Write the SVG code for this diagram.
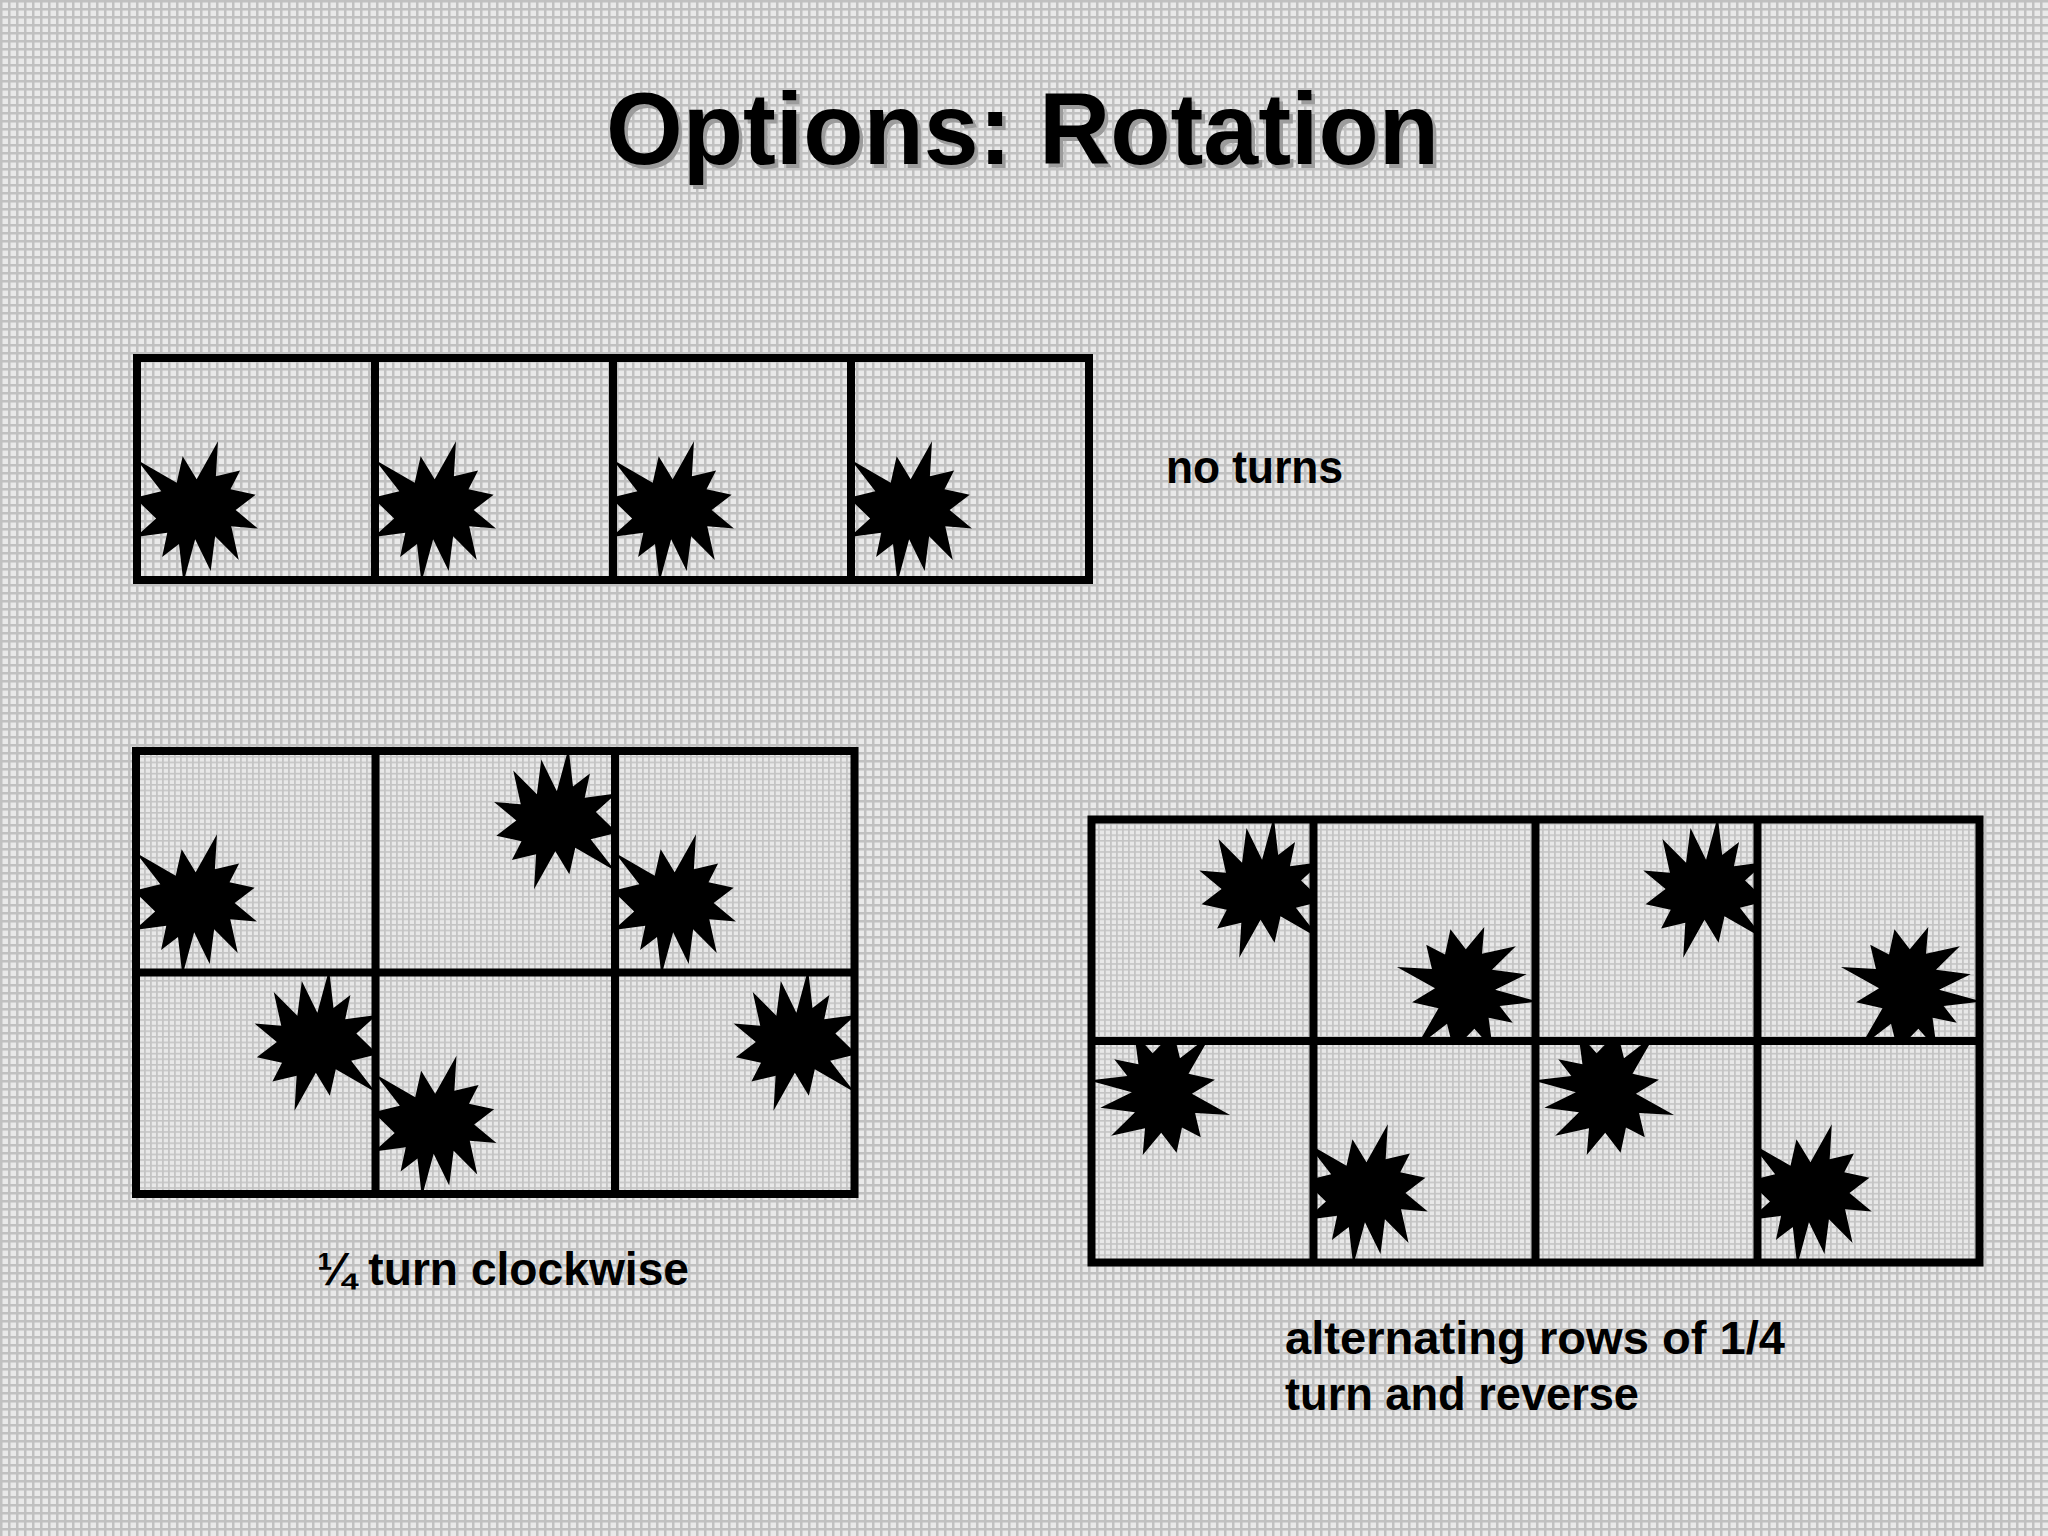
<svg xmlns="http://www.w3.org/2000/svg" xmlns:xlink="http://www.w3.org/1999/xlink" width="2048" height="1536" viewBox="0 0 2048 1536">
  <defs>
    <pattern id="bg" width="8" height="8" patternUnits="userSpaceOnUse">
      <rect width="8" height="8" fill="#c0c0c0"/>
      <rect x="2.5" y="2.5" width="5.5" height="5.5" fill="#e9e9e9"/>
    </pattern>
    <pattern id="fine" width="6" height="5.6" patternUnits="userSpaceOnUse">
      <rect width="6" height="5.6" fill="#c4c4c4"/>
      <rect x="1.8" y="1.6" width="4.2" height="4" fill="#e8e8e8"/>
    </pattern>
    <path id="star" d="M10901 5905 L8458 2399 L7417 6425 L476 2943 L4732 7722 L106 8718 L3828 11880 L243 14689 L5772 14041 L4868 17719 L7819 15730 L8590 21600 L10637 15038 L13349 19840 L14125 14561 L18248 18195 L16938 13044 L21600 13393 L17710 10579 L21198 8242 L16806 7417 L18482 4560 L14257 5429 L14623 106 Z"/>
    <g id="starA"><use href="#star" transform="translate(-2.8,82.5) scale(0.00573,0.006574)"/></g>
    <g id="starB"><use href="#star" transform="translate(-9.5,82.5) scale(0.00573,0.006574)"/></g>
    <style>
      .lbl { font-family: "Liberation Sans", Arial, sans-serif; font-weight: bold; font-size: 46px; fill: #000; }
      .ttl { font-family: "Liberation Sans", Arial, sans-serif; font-weight: bold; font-size: 102px; }
      .frame { fill: none; stroke: #000; stroke-width: 8; }
      .ln { stroke: #000; stroke-width: 8; }
      .st { fill: #000; }
    </style>
  </defs>

  <rect width="2048" height="1536" fill="url(#bg)"/>

  <g id="title">
    <text class="ttl" x="609.5" y="167.5" fill="#9c9c9c" textLength="833" lengthAdjust="spacingAndGlyphs">Options: Rotation</text>
    <text class="ttl" x="606" y="164" fill="#000" textLength="833" lengthAdjust="spacingAndGlyphs">Options: Rotation</text>
  </g>

  <g id="grid-no-turns">
    <g class="st">
      <use href="#starA" transform="translate(137,358)"/>
      <use href="#starA" transform="translate(375,358)"/>
      <use href="#starA" transform="translate(613,358)"/>
      <use href="#starA" transform="translate(851,358)"/>
    </g>
    <rect class="frame" x="137" y="358" width="952" height="222"/>
    <line class="ln" x1="375" y1="358" x2="375" y2="580"/>
    <line class="ln" x1="613" y1="358" x2="613" y2="580"/>
    <line class="ln" x1="851" y1="358" x2="851" y2="580"/>
  </g>
  <text id="label-no-turns" class="lbl" x="1166" y="483" textLength="177" lengthAdjust="spacingAndGlyphs">no turns</text>

  <g id="grid-quarter-turn">
    <rect x="136" y="751" width="718.5" height="443" fill="url(#fine)"/>
    <g class="st">
      <use href="#starA" transform="translate(136,751)"/>
      <use href="#starA" transform="translate(375.5,751) rotate(180,119.75,110.75)"/>
      <use href="#starA" transform="translate(615,751)"/>
      <use href="#starA" transform="translate(136,972.5) rotate(180,119.75,110.75)"/>
      <use href="#starA" transform="translate(375.5,972.5)"/>
      <use href="#starA" transform="translate(615,972.5) rotate(180,119.75,110.75)"/>
    </g>
    <rect class="frame" x="136" y="751" width="718.5" height="443"/>
    <line class="ln" x1="136" y1="972.5" x2="854.5" y2="972.5"/>
    <line class="ln" x1="375.5" y1="751" x2="375.5" y2="1194"/>
    <line class="ln" x1="615" y1="751" x2="615" y2="1194"/>
  </g>
  <text id="label-quarter-turn" class="lbl" x="317" y="1285" textLength="372" lengthAdjust="spacingAndGlyphs">¼ turn clockwise</text>

  <g id="grid-alternating">
    <rect x="1091.5" y="819.5" width="888" height="443" fill="url(#fine)"/>
    <g class="st">
      <svg x="1091.5" y="819.5" width="222" height="221.5" overflow="hidden"><use href="#starB" transform="rotate(180,111,110.75)"/></svg>
      <svg x="1313.5" y="819.5" width="222" height="221.5" overflow="hidden"><use href="#starB" transform="rotate(-90,111,110.75)"/></svg>
      <svg x="1535.5" y="819.5" width="222" height="221.5" overflow="hidden"><use href="#starB" transform="rotate(180,111,110.75)"/></svg>
      <svg x="1757.5" y="819.5" width="222" height="221.5" overflow="hidden"><use href="#starB" transform="rotate(-90,111,110.75)"/></svg>
      <svg x="1091.5" y="1041" width="222" height="221.5" overflow="hidden"><use href="#starB" transform="rotate(90,111,110.75)"/></svg>
      <svg x="1313.5" y="1041" width="222" height="221.5" overflow="hidden"><use href="#starB"/></svg>
      <svg x="1535.5" y="1041" width="222" height="221.5" overflow="hidden"><use href="#starB" transform="rotate(90,111,110.75)"/></svg>
      <svg x="1757.5" y="1041" width="222" height="221.5" overflow="hidden"><use href="#starB"/></svg>
    </g>
    <rect class="frame" x="1091.5" y="819.5" width="888" height="443"/>
    <line class="ln" x1="1091.5" y1="1041" x2="1979.5" y2="1041"/>
    <line class="ln" x1="1313.5" y1="819.5" x2="1313.5" y2="1262.5"/>
    <line class="ln" x1="1535.5" y1="819.5" x2="1535.5" y2="1262.5"/>
    <line class="ln" x1="1757.5" y1="819.5" x2="1757.5" y2="1262.5"/>
  </g>
  <g id="label-alternating">
    <text class="lbl" x="1285" y="1354" textLength="500" lengthAdjust="spacingAndGlyphs">alternating rows of 1/4</text>
    <text class="lbl" x="1285" y="1410" textLength="354" lengthAdjust="spacingAndGlyphs">turn and reverse</text>
  </g>
</svg>
